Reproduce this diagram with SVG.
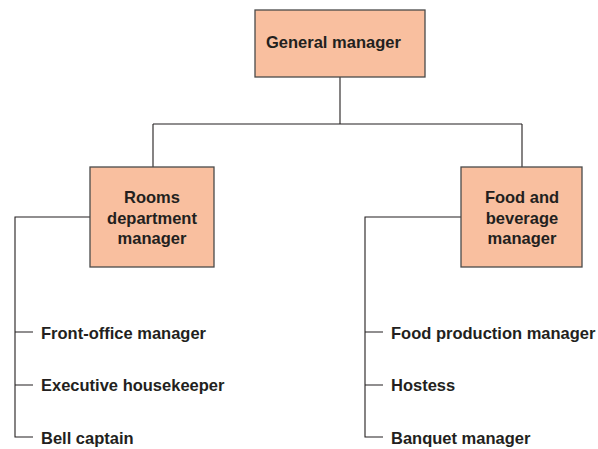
<svg xmlns="http://www.w3.org/2000/svg" width="598" height="449" viewBox="0 0 598 449">
<style>
.box{fill:#F9BF9F;stroke:#4a4a4a;stroke-width:1.3}
.t{font-family:"Liberation Sans",Arial,sans-serif;font-weight:bold;font-size:16.5px;fill:#231F20}
.c{text-anchor:middle}
.ln{fill:none;stroke:#231F20;stroke-width:1.1}
</style>
<rect width="598" height="449" fill="#fff"/>
<g id="connectors">
<path class="ln" d="M340 77V124M153 124H522M153 124V167M522 124V167"/>
<path class="ln" d="M90 217H15V437H33M15 332H33M15 385H33"/>
<path class="ln" d="M461 217H365V437H383M365 332H383M365 385H383"/>
</g>
<g id="general">
<rect class="box" x="255" y="10" width="170" height="67"/>
<text class="t" x="266" y="48">General manager</text>
</g>
<g id="rooms">
<rect class="box" x="90" y="167" width="124" height="100"/>
<text class="t c" x="152" y="203">Rooms</text>
<text class="t c" x="152" y="224">department</text>
<text class="t c" x="152" y="244">manager</text>
</g>
<g id="food">
<rect class="box" x="461" y="167" width="121" height="100"/>
<text class="t c" x="522" y="203">Food and</text>
<text class="t c" x="522" y="224">beverage</text>
<text class="t c" x="522" y="244">manager</text>
</g>
<g id="front-office"><text class="t" x="41" y="339">Front-office manager</text></g>
<g id="housekeeper"><text class="t" x="41" y="391">Executive housekeeper</text></g>
<g id="bell"><text class="t" x="41" y="444">Bell captain</text></g>
<g id="food-production"><text class="t" x="391" y="339">Food production manager</text></g>
<g id="hostess"><text class="t" x="391" y="391">Hostess</text></g>
<g id="banquet"><text class="t" x="391" y="444">Banquet manager</text></g>
</svg>
